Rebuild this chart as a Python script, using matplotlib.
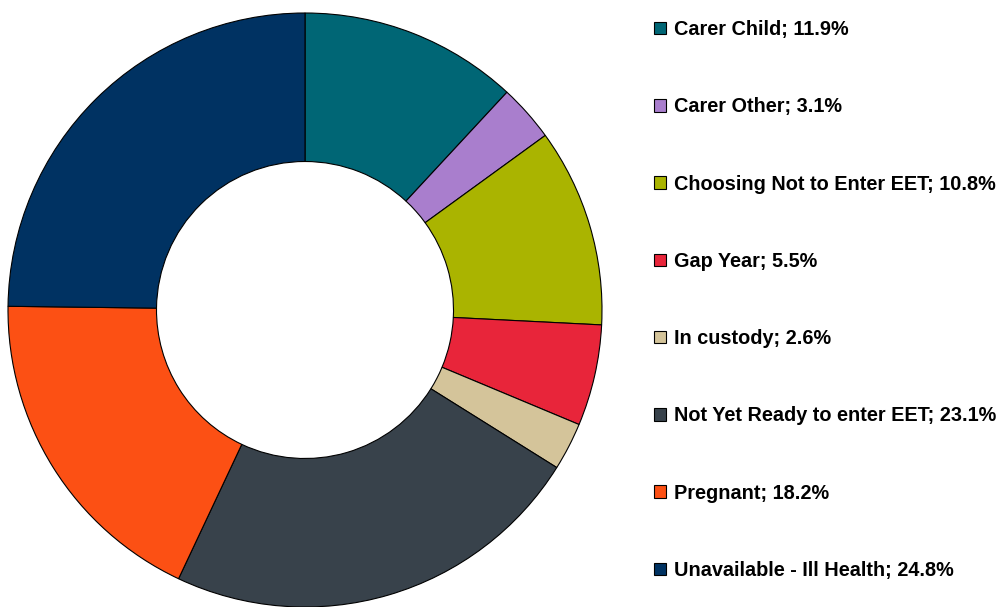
import matplotlib
matplotlib.use("Agg")
import matplotlib.pyplot as plt
import matplotlib.patches as mpatches

plt.rcParams["font.family"] = ["Liberation Sans", "DejaVu Sans"]

# ── Data ──────────────────────────────────────────────────────────────────────
categories = ["Carer Child", "Carer Other", "Choosing Not to Enter EET", "Gap Year",
              "In custody", "Not Yet Ready to enter EET", "Pregnant",
              "Unavailable - Ill Health"]
shares = [11.9, 3.1, 10.8, 5.5, 2.6, 23.1, 18.2, 24.8]
colors = ["#006675", "#A97ECD", "#AAB400", "#E8253A", "#D4C49A", "#38424B",
          "#FC5014", "#003262"]

fig = plt.figure(figsize=(10.05, 6.07), dpi=100)
ax = fig.add_axes([8 / 1005, 0.0, 594 / 1005, 594 / 607])

ax.pie(shares, colors=colors, startangle=90, counterclock=False,
       radius=1.0, wedgeprops=dict(width=0.5, edgecolor="black", linewidth=0.8))
ax.set_aspect("equal")
ax.set_xlim(-1, 1)
ax.set_ylim(-1, 1)

handles = [mpatches.Patch(facecolor=c, edgecolor="black", linewidth=0.8,
                          label=f"{n}; {v:.1f}%")
           for n, c, v in zip(categories, colors, shares)]
fig.legend(handles=handles, loc="upper left", bbox_to_anchor=(654 / 1005, 1 - 20 / 607),
           frameon=False, prop=dict(weight="bold", size=14.3),
           handlelength=0.6, handleheight=0.6, handletextpad=0.4,
           labelspacing=2.934, borderaxespad=0, borderpad=0)

fig.savefig("out.png", dpi=100)
